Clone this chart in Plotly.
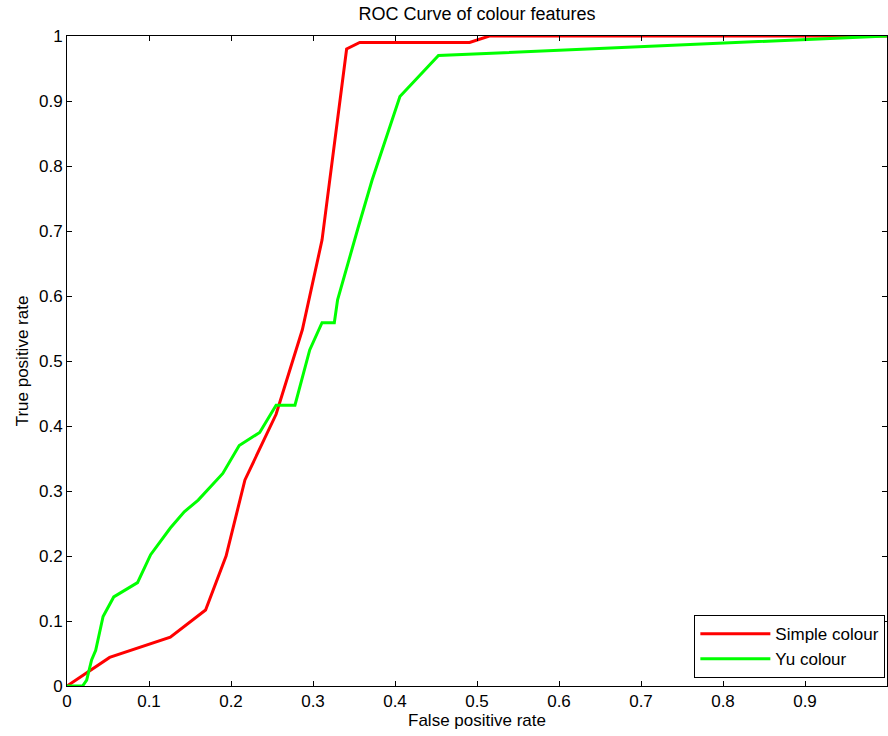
import plotly.graph_objects as go

# Simple colour ROC
simple_fpr = [0.0, 0.052, 0.126, 0.169, 0.194, 0.217, 0.255, 0.287, 0.311, 0.341, 0.357, 0.491,
              0.515, 0.538, 0.580, 0.607, 0.643, 0.675, 0.720, 0.759, 0.802, 0.867, 0.926, 0.960, 0.977, 1.0]
simple_tpr = [0.0, 0.044, 0.075, 0.117, 0.200, 0.317, 0.418, 0.548, 0.686, 0.980, 0.990, 0.990,
              1.0, 1.0, 1.0, 1.0, 1.0, 1.0, 1.0, 1.0, 1.0, 1.0, 1.0, 1.0, 1.0, 1.0]

# Yu colour ROC
yu_fpr = [0.0, 0.019, 0.024, 0.030, 0.035, 0.044, 0.057, 0.071, 0.086, 0.102, 0.126, 0.143,
          0.160, 0.190, 0.210, 0.235, 0.255, 0.278, 0.296, 0.311, 0.326, 0.330, 0.334, 0.339,
          0.355, 0.372, 0.406, 0.453, 1.0]
yu_tpr = [0.0, 0.0, 0.009, 0.040, 0.055, 0.107, 0.137, 0.148, 0.159, 0.202, 0.243, 0.268,
          0.286, 0.327, 0.370, 0.390, 0.432, 0.432, 0.517, 0.559, 0.559, 0.594, 0.612, 0.637,
          0.705, 0.778, 0.907, 0.970, 1.0]

x_ticks = [0, 0.1, 0.2, 0.3, 0.4, 0.5, 0.6, 0.7, 0.8, 0.9]
x_labels = ["0", "0.1", "0.2", "0.3", "0.4", "0.5", "0.6", "0.7", "0.8", "0.9"]
y_ticks = [0, 0.1, 0.2, 0.3, 0.4, 0.5, 0.6, 0.7, 0.8, 0.9, 1.0]
y_labels = ["0", "0.1", "0.2", "0.3", "0.4", "0.5", "0.6", "0.7", "0.8", "0.9", "1"]

font_family = "Liberation Sans, Arial, sans-serif"
FS = 17

fig = go.Figure()
fig.add_trace(go.Scatter(x=simple_fpr, y=simple_tpr, mode="lines", name="Simple colour",
                         line=dict(color="#ff0000", width=3)))
fig.add_trace(go.Scatter(x=yu_fpr, y=yu_tpr, mode="lines", name="Yu colour",
                         line=dict(color="#00ff00", width=3)))

axis_common = dict(showline=True, linecolor="black", linewidth=1, mirror="allticks",
                   ticks="inside", ticklen=5, tickcolor="black", showgrid=False, zeroline=False,
                   tickfont=dict(size=FS, color="black", family=font_family))

fig.update_xaxes(range=[0, 1.0], tickvals=x_ticks, ticktext=x_labels,
                 title=dict(text="False positive rate", font=dict(size=FS, color="black", family=font_family), standoff=2),
                 **axis_common)
fig.update_yaxes(range=[0, 1.0], tickvals=y_ticks, ticktext=y_labels,
                 title=dict(text="True positive rate", font=dict(size=FS, color="black", family=font_family), standoff=6),
                 **axis_common)

fig.update_layout(
    width=888, height=736,
    margin=dict(l=67, r=1, t=36, b=50),
    paper_bgcolor="white", plot_bgcolor="white",
    title=dict(text="ROC Curve of colour features", x=0.5, xanchor="center", y=0.981, yanchor="middle",
               xref="paper",
               font=dict(size=18, color="black", family=font_family)),
    legend=dict(x=0.998, xanchor="right", y=0.012, yanchor="bottom",
                bordercolor="black", borderwidth=1, bgcolor="white",
                font=dict(size=FS, color="black", family=font_family),
                tracegroupgap=0, itemwidth=70),
    showlegend=True,
)

fig.write_html("out.html")
